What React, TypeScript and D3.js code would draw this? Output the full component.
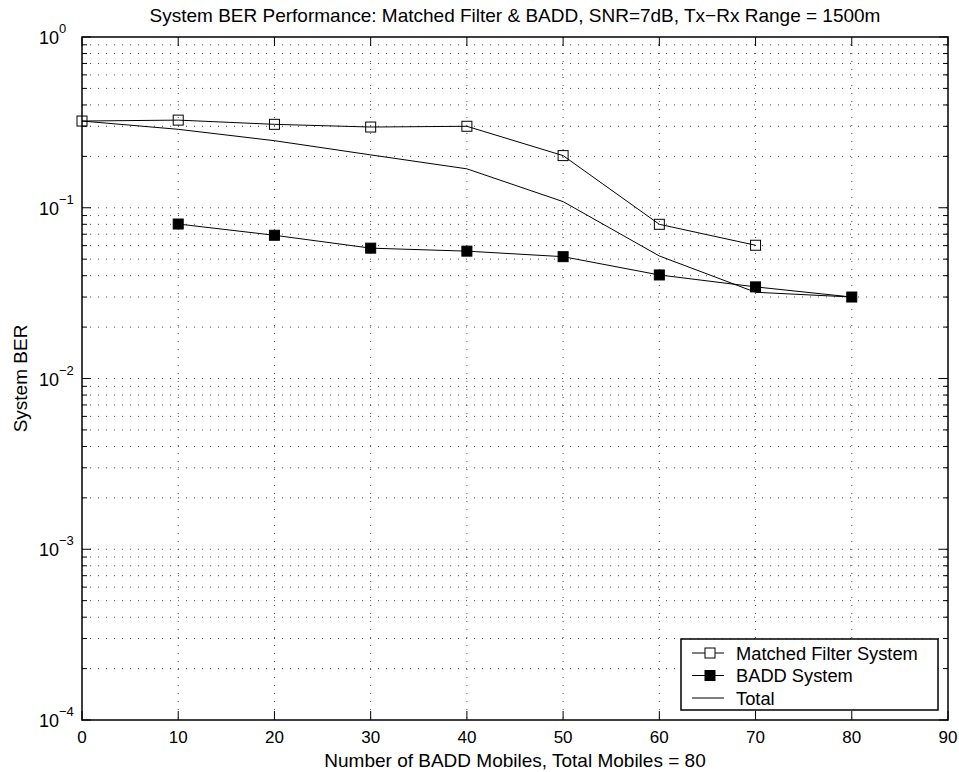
import React, { useEffect, useRef } from 'react';
import * as d3 from 'd3';

const xs = [0, 10, 20, 30, 40, 50, 60, 70, 80];
const matchedX = [0, 10, 20, 30, 40, 50, 60, 70];
const matchedBER = [0.322, 0.326, 0.308, 0.297, 0.300, 0.202, 0.080, 0.0603];
const baddX = [10, 20, 30, 40, 50, 60, 70, 80];
const baddBER = [0.0803, 0.069, 0.058, 0.0557, 0.0517, 0.0404, 0.0344, 0.030];
const totalBER = [0.322, 0.288, 0.247, 0.204, 0.169, 0.1086, 0.0522, 0.032, 0.030];
const xTicks = [0, 10, 20, 30, 40, 50, 60, 70, 80, 90];
const yExponents = [0, -1, -2, -3, -4];
const legendLabels = ['Matched Filter System', 'BADD System', 'Total'];

const W = 959, H = 772;
const m = { left: 82, right: 11, top: 37, bottom: 52 };
const font = 'Liberation Sans, Arial, Helvetica, sans-serif';

const App = () => {
    const ref = useRef<SVGGElement>(null);

    useEffect(() => {
        const g = d3.select(ref.current);
        g.selectAll('*').remove();
        const iw = W - m.left - m.right;
        const ih = H - m.top - m.bottom;
        const x = d3.scaleLinear().domain([0, 90]).range([0, iw]);
        const y = d3.scaleLog().domain([1e-4, 1]).range([ih, 0]);

        // minor values for the log axis
        const minor: number[] = [];
        for (let e = -4; e < 0; e++) for (let k = 2; k <= 9; k++) minor.push(k * Math.pow(10, e));
        const major = yExponents.map(e => Math.pow(10, e));

        // dotted grid
        const grid = g.append('g').attr('stroke', '#222').attr('stroke-width', 1)
            .attr('stroke-dasharray', '1,7').attr('opacity', 0.8);
        xTicks.slice(1, -1).forEach(t => grid.append('line')
            .attr('x1', x(t)).attr('x2', x(t)).attr('y1', 0).attr('y2', ih));
        [...major.slice(1, -1), ...minor].forEach(v => grid.append('line')
            .attr('x1', 0).attr('x2', iw).attr('y1', y(v)).attr('y2', y(v)));

        // ticks, inward on all four sides
        const tk = g.append('g').attr('stroke', '#000').attr('stroke-width', 1);
        xTicks.forEach(t => {
            tk.append('line').attr('x1', x(t)).attr('x2', x(t)).attr('y1', ih).attr('y2', ih - 9);
            tk.append('line').attr('x1', x(t)).attr('x2', x(t)).attr('y1', 0).attr('y2', 9);
        });
        major.forEach(v => {
            tk.append('line').attr('x1', 0).attr('x2', 9).attr('y1', y(v)).attr('y2', y(v));
            tk.append('line').attr('x1', iw).attr('x2', iw - 9).attr('y1', y(v)).attr('y2', y(v));
        });
        minor.forEach(v => {
            tk.append('line').attr('x1', 0).attr('x2', 5).attr('y1', y(v)).attr('y2', y(v));
            tk.append('line').attr('x1', iw).attr('x2', iw - 5).attr('y1', y(v)).attr('y2', y(v));
        });

        // box
        g.append('rect').attr('width', iw).attr('height', ih)
            .attr('fill', 'none').attr('stroke', '#000').attr('stroke-width', 1.5);

        // tick labels
        g.append('g').selectAll('text').data(xTicks).enter().append('text')
            .attr('x', d => x(d)).attr('y', ih + 23).attr('text-anchor', 'middle')
            .style('font-family', font).style('font-size', '17px').text(d => d);
        const yl = g.append('g').selectAll('text').data(yExponents).enter().append('text')
            .attr('x', -43).attr('y', d => y(Math.pow(10, d)) + 7)
            .style('font-family', font).style('font-size', '18px');
        yl.append('tspan').text('10');
        yl.append('tspan').attr('dy', -11).style('font-size', '13px')
            .text(d => d === 0 ? '0' : '\u2212' + Math.abs(d));

        // series
        const line = d3.line<[number, number]>().x(d => x(d[0])).y(d => y(d[1]));
        const pairs = (a: number[], b: number[]) => a.map((v, i) => [v, b[i]] as [number, number]);
        const series = [
            { pts: pairs(xs, totalBER), marker: null },
            { pts: pairs(matchedX, matchedBER), marker: 'open' },
            { pts: pairs(baddX, baddBER), marker: 'filled' },
        ];
        series.forEach(s => {
            g.append('path').attr('d', line(s.pts)).attr('fill', 'none')
                .attr('stroke', '#000').attr('stroke-width', 1);
            if (s.marker) {
                g.append('g').selectAll('rect').data(s.pts).enter().append('rect')
                    .attr('x', d => x(d[0]) - 5).attr('y', d => y(d[1]) - 5)
                    .attr('width', 10).attr('height', 10)
                    .attr('fill', s.marker === 'filled' ? '#000' : 'none')
                    .attr('stroke', '#000').attr('stroke-width', 1);
            }
        });

        // legend
        const lg = g.append('g').attr('transform', `translate(${681 - m.left},${639 - m.top})`);
        lg.append('rect').attr('width', 257).attr('height', 71)
            .attr('fill', '#fff').attr('stroke', '#000').attr('stroke-width', 1.5);
        const markers = ['open', 'filled', null];
        legendLabels.forEach((lab, i) => {
            const ry = 14 + i * 22.5;
            lg.append('line').attr('x1', 11).attr('x2', 43).attr('y1', ry).attr('y2', ry)
                .attr('stroke', '#000').attr('stroke-width', 1);
            if (markers[i]) {
                lg.append('rect').attr('x', 29 - 5).attr('y', ry - 5).attr('width', 10).attr('height', 10)
                    .attr('fill', markers[i] === 'filled' ? '#000' : '#fff')
                    .attr('stroke', '#000').attr('stroke-width', 1);
            }
            lg.append('text').attr('x', 55).attr('y', ry + 6.5)
                .style('font-family', font).style('font-size', '18.3px').text(lab);
        });

        // titles
        g.append('text').attr('x', iw / 2).attr('y', -15.5).attr('text-anchor', 'middle')
            .style('font-family', font).style('font-size', '19px')
            .text('System BER Performance: Matched Filter & BADD, SNR=7dB, Tx\u2212Rx Range = 1500m');
        g.append('text').attr('x', iw / 2).attr('y', ih + 47).attr('text-anchor', 'middle')
            .style('font-family', font).style('font-size', '19px')
            .text('Number of BADD Mobiles, Total Mobiles = 80');
        g.append('text').attr('transform', `translate(${-55},${ih / 2}) rotate(-90)`)
            .attr('text-anchor', 'middle')
            .style('font-family', font).style('font-size', '19px')
            .text('System BER');
    }, []);

    return (
        <svg width={W} height={H} style={{ position: 'absolute', left: 0, top: 0, background: '#fff' }}>
            <g ref={ref} transform={`translate(${m.left},${m.top})`} />
        </svg>
    );
};

export default App;
